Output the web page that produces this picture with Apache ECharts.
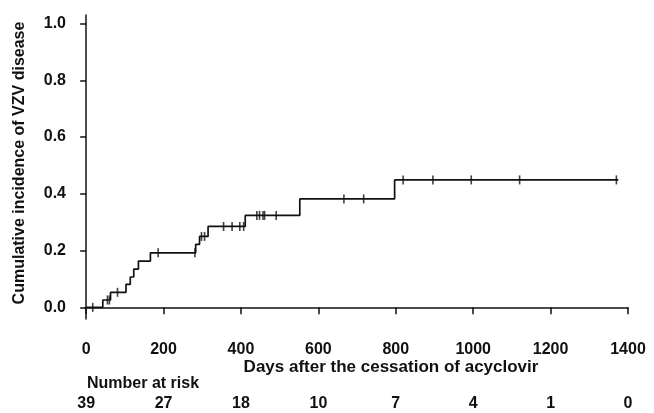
<!DOCTYPE html>
<html>
<head>
<meta charset="utf-8">
<script src="https://cdn.jsdelivr.net/npm/echarts@6/dist/echarts.min.js"></script>
<style>
  html, body { margin: 0; padding: 0; background: #fff; }
  #chart { width: 654px; height: 413px; }
</style>
</head>
<body>
<div id="chart"></div>
<script>
// step curve: day the level starts, and the level
const eventDays = [0, 43, 63, 103, 114, 123, 135, 166, 283, 293, 315, 411, 552, 797, 1375]
const eventValues = [0, 0.026, 0.053, 0.081, 0.107, 0.135, 0.163, 0.192, 0.222, 0.25, 0.285, 0.324, 0.382, 0.449, 0.449]

// censored observations (days)
const censorDays = [17, 55, 60, 81, 186, 281, 298, 306, 355, 377, 397, 407, 441, 448, 457, 461, 491, 666, 717, 819, 896, 995, 1120, 1370]

// axis ticks and number at risk
const xTicks = [0, 200, 400, 600, 800, 1000, 1200, 1400]
const yTicks = [0, 0.2, 0.4, 0.6, 0.8, 1.0]
const atRisk = [39, 27, 18, 10, 7, 4, 1, 0]

const FONT = 'Liberation Sans, Arial, sans-serif'

// level of the curve on a given day
function levelAt(day) {
  let v = 0
  for (let i = 0; i < eventDays.length; i++) {
    if (eventDays[i] <= day) v = eventValues[i]
  }
  return v
}

const curveData = eventDays.map((d, i) => [d, eventValues[i]])
const censorData = censorDays.map(d => [d, levelAt(d)])

const chart = echarts.init(document.getElementById('chart'))

chart.setOption({
  animation: false,
  grid: { left: 85, right: 26, top: 15, bottom: 94 },
  xAxis: [
    {
      type: 'value', min: -3, max: 1400,
      splitLine: { show: false },
      axisLine: { lineStyle: { color: '#111', width: 1.5 } },
      axisTick: { customValues: xTicks, length: 7, lineStyle: { color: '#111', width: 1.5 } },
      axisLabel: {
        customValues: xTicks, margin: 23,
        color: '#111', fontFamily: FONT, fontSize: 16, fontWeight: 'bold',
        formatter: v => String(v)
      }
    },
    {
      type: 'value', min: -3, max: 1400, position: 'bottom',
      splitLine: { show: false },
      axisLine: { show: false },
      axisTick: { show: false },
      axisLabel: {
        customValues: xTicks, margin: 77,
        color: '#111', fontFamily: FONT, fontSize: 16, fontWeight: 'bold',
        formatter: v => String(atRisk[xTicks.indexOf(v)])
      }
    }
  ],
  yAxis: {
    type: 'value', min: -0.041, max: 1.03,
    splitLine: { show: false },
    axisLine: { show: true, lineStyle: { color: '#111', width: 1.5 } },
    axisTick: { show: true, customValues: yTicks, length: 6, lineStyle: { color: '#111', width: 1.5 } },
    axisLabel: {
      customValues: yTicks, margin: 19,
      color: '#111', fontFamily: FONT, fontSize: 16, fontWeight: 'bold',
      formatter: v => v.toFixed(1)
    }
  },
  graphic: [
    {
      type: 'text', x: 20, y: 163, rotation: Math.PI / 2,
      style: {
        text: 'Cumulative incidence of VZV disease',
        fill: '#111', font: 'bold 16px ' + FONT,
        align: 'center', verticalAlign: 'middle'
      }
    },
    {
      type: 'text', x: 391, y: 367,
      style: {
        text: 'Days after the cessation of acyclovir',
        fill: '#111', font: 'bold 17px ' + FONT,
        align: 'center', verticalAlign: 'middle'
      }
    },
    {
      type: 'text', x: 87, y: 384,
      style: {
        text: 'Number at risk',
        fill: '#111', font: 'bold 16px ' + FONT,
        align: 'left', verticalAlign: 'middle'
      }
    }
  ],
  series: [
    {
      type: 'line', step: 'end', data: curveData,
      showSymbol: false, symbol: 'none',
      lineStyle: { color: '#111', width: 1.7 }
    },
    {
      type: 'scatter', data: censorData,
      symbol: 'rect', symbolSize: [1.6, 9],
      itemStyle: { color: '#111' }
    }
  ]
})
</script>
</body>
</html>
